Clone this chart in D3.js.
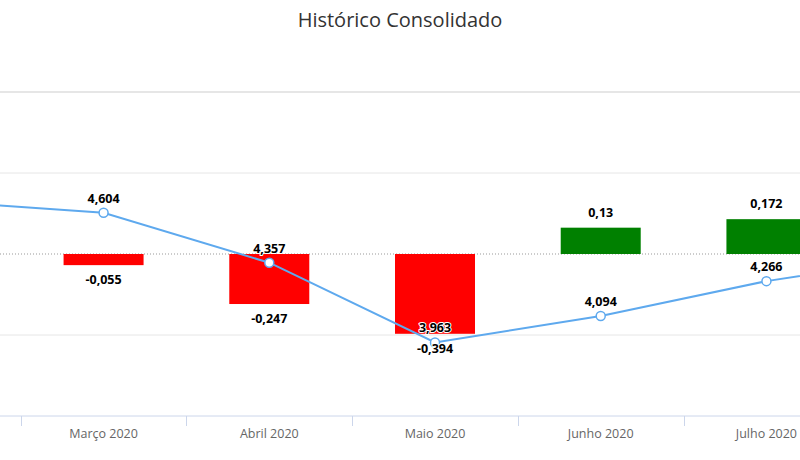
<!DOCTYPE html>
<html>
<head>
<meta charset="utf-8">
<script src="https://cdn.jsdelivr.net/npm/d3@7"></script>
<style>
  body { margin: 0; background: #fff; }
  svg { font-family: "Open Sans", "Noto Sans", sans-serif; }
</style>
</head>
<body>
<div id="chart"></div>
<script>
// categories (first and last sit outside the visible window)
const categories = ["Fevereiro 2020", "Março 2020", "Abril 2020", "Maio 2020", "Junho 2020", "Julho 2020", "Agosto 2020"];
// monthly variation (bars)
const barValues = [null, -0.055, -0.247, -0.394, 0.13, 0.172, null];
// consolidated value (line)
const lineValues = [4.66, 4.604, 4.357, 3.963, 4.094, 4.266, 4.39];
const barTicks = [-0.8, -0.4, 0, 0.4, 0.8];
const title = "Histórico Consolidado";

const width = 800, height = 460;
const plot = { left: -145, right: 1015, top: 92, bottom: 416 };

const fmt = (v) => String(v).replace(".", ",");

const svg = d3.select("#chart").append("svg")
  .attr("width", width)
  .attr("height", height);

const x = d3.scaleBand()
  .domain(categories)
  .range([plot.left, plot.right]);

const cx = (c) => x(c) + x.bandwidth() / 2;
// only the categories whose centre falls inside the window get labels
const inView = (c) => cx(c) > 0 && cx(c) < width;

const yBar = d3.scaleLinear().domain([-0.8, 0.8]).range([plot.bottom, plot.top]);
const yLine = d3.scaleLinear().domain([3.6, 5.2]).range([plot.bottom, plot.top]);

// title
svg.append("text")
  .attr("x", width / 2)
  .attr("y", 27)
  .attr("text-anchor", "middle")
  .style("font-size", "20px")
  .style("fill", "#333")
  .text(title);

// gridlines
svg.append("g")
  .selectAll("line")
  .data(barTicks.filter((t) => t !== 0 && t !== -0.8))
  .enter()
  .append("line")
  .attr("x1", 0)
  .attr("x2", width)
  .attr("y1", (d) => yBar(d))
  .attr("y2", (d) => yBar(d))
  .attr("stroke", "#e6e6e6")
  .attr("stroke-width", (d) => (d === 0.8 ? 2 : 1));

// dotted zero line
svg.append("line")
  .attr("x1", 0)
  .attr("x2", width)
  .attr("y1", yBar(0))
  .attr("y2", yBar(0))
  .attr("stroke", "#999")
  .attr("stroke-dasharray", "1,2");

// x axis
const xAxis = svg.append("g")
  .attr("transform", `translate(0,${plot.bottom})`);

xAxis.append("line")
  .attr("x1", 0)
  .attr("x2", width)
  .attr("stroke", "#ccd6eb");

xAxis.selectAll(".tick")
  .data(categories.slice(1))
  .enter()
  .append("line")
  .attr("x1", (d) => Math.round(x(d)) + 0.5)
  .attr("x2", (d) => Math.round(x(d)) + 0.5)
  .attr("y1", 0)
  .attr("y2", 10)
  .attr("stroke", "#ccd6eb");

xAxis.selectAll(".label")
  .data(categories.filter(inView))
  .enter()
  .append("text")
  .attr("x", cx)
  .attr("y", 22)
  .attr("text-anchor", "middle")
  .style("font-size", "12.5px")
  .style("fill", "#666")
  .text((d) => d);

// bars
const barW = 80;
const bars = categories
  .map((c, i) => ({ cat: c, v: barValues[i] }))
  .filter((d) => d.v !== null);

svg.append("g")
  .selectAll("rect")
  .data(bars)
  .enter()
  .append("rect")
  .attr("x", (d) => cx(d.cat) - barW / 2)
  .attr("width", barW)
  .attr("y", (d) => Math.min(yBar(d.v), yBar(0)))
  .attr("height", (d) => Math.abs(yBar(d.v) - yBar(0)))
  .attr("fill", (d) => (d.v < 0 ? "#ff0000" : "#008000"));

// line
const pts = categories.map((c, i) => ({ cat: c, v: lineValues[i] }));

svg.append("path")
  .datum(pts)
  .attr("fill", "none")
  .attr("stroke", "#5ea9ee")
  .attr("stroke-width", 2)
  .attr("d", d3.line()
    .x((d) => cx(d.cat))
    .y((d) => yLine(d.v)));

svg.append("g")
  .selectAll("circle")
  .data(pts)
  .enter()
  .append("circle")
  .attr("cx", (d) => cx(d.cat))
  .attr("cy", (d) => yLine(d.v))
  .attr("r", 4.5)
  .attr("fill", "#fff")
  .attr("stroke", "#5ea9ee")
  .attr("stroke-width", 1.5);

// data labels
function label(sel) {
  sel.attr("text-anchor", "middle")
    .style("font-size", "12.5px")
    .style("font-weight", "bold")
    .style("fill", "#000")
    .style("stroke", "#fff")
    .style("stroke-width", "2px")
    .style("paint-order", "stroke")
    .style("stroke-linejoin", "round");
}

svg.append("g")
  .selectAll("text")
  .data(bars.filter((d) => inView(d.cat)))
  .enter()
  .append("text")
  .attr("x", (d) => cx(d.cat))
  .attr("y", (d) => (d.v < 0 ? yBar(d.v) + 19 : yBar(d.v) - 11))
  .call(label)
  .text((d) => fmt(d.v));

svg.append("g")
  .selectAll("text")
  .data(pts.filter((d) => inView(d.cat)))
  .enter()
  .append("text")
  .attr("x", (d) => cx(d.cat))
  .attr("y", (d) => yLine(d.v) - 10)
  .call(label)
  .text((d) => fmt(d.v));
</script>
</body>
</html>
